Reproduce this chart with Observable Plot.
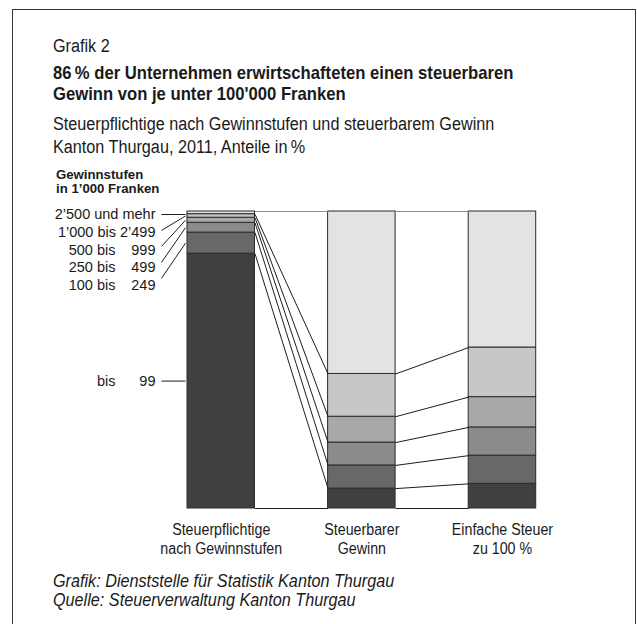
<!DOCTYPE html>
<html><head><meta charset="utf-8">
<script src="https://cdn.jsdelivr.net/npm/d3@7"></script>
<script src="https://cdn.jsdelivr.net/npm/@observablehq/plot@0.6"></script>
<style>
html,body{margin:0;padding:0;background:#fff;overflow:hidden;}
#wrap{position:relative;width:637px;height:624px;font-family:"Liberation Sans",Arial,sans-serif;color:#1a1a1a;}
.t{position:absolute;left:53px;white-space:nowrap;line-height:1;transform-origin:0 0;}
.c{transform:scaleX(0.9);}
#frame{position:absolute;left:12px;top:9px;width:622px;height:700px;border:1px solid #333;}
#chart{position:absolute;left:0;top:0;}
</style></head><body>
<div id="wrap">
<div id="frame"></div>
<div id="chart"></div>
<div class="t c" style="top:37.1px;font-size:18px">Grafik 2</div>
<div class="t c" style="top:64.3px;font-size:18.5px;font-weight:bold">86&#8239;% der Unternehmen erwirtschafteten einen steuerbaren</div>
<div class="t c" style="top:85.3px;font-size:18.5px;font-weight:bold">Gewinn von je unter 100'000 Franken</div>
<div class="t c" style="top:114.8px;font-size:18px">Steuerpflichtige nach Gewinnstufen und steuerbarem Gewinn</div>
<div class="t c" style="top:138.1px;font-size:18px">Kanton Thurgau, 2011, Anteile in&#8239;%</div>
<div class="t" style="top:168.3px;left:56px;font-size:13.2px;font-weight:bold">Gewinnstufen</div>
<div class="t" style="top:182.3px;left:56px;font-size:13.2px;font-weight:bold">in 1’000 Franken</div>
<div class="t c" style="top:571.5px;font-size:18px;font-style:italic">Grafik: Dienststelle für Statistik Kanton Thurgau</div>
<div class="t c" style="top:591.3px;font-size:18px;font-style:italic">Quelle: Steuerverwaltung Kanton Thurgau</div>
</div>
<script>
// Data (bottom to top)
const groups = ["bis 99", "100 bis 249", "250 bis 499", "500 bis 999", "1’000 bis 2’499", "2’500 und mehr"];
const columns = ["Steuerpflichtige\nnach Gewinnstufen", "Steuerbarer\nGewinn", "Einfache Steuer\nzu 100 %"];
const steuerpflichtige = [85.8, 7.1, 3.3, 1.7, 1.2, 0.9];
const steuerbarerGewinn = [6.7, 7.8, 7.7, 8.7, 14.4, 54.7];
const einfacheSteuer = [8.3, 9.5, 9.5, 10.2, 16.7, 45.8];
const colors = ["#404042", "#676869", "#8a8b8d", "#a7a8aa", "#c6c7c9", "#e2e3e3"];
const labelPrefix = ["bis", "100 bis", "250 bis", "500 bis", "", ""];
const labelNumber = ["99", "249", "499", "999", "1’000 bis 2’499", "2’500 und mehr"];

const series = [steuerpflichtige, steuerbarerGewinn, einfacheSteuer];
const hw = 0.24; // half bar width in x units

const W = 637, H = 624;
const mTop = 211, mBottom = 116, mLeft = 187, mRight = 101.3;
const xs = Plot.scale({x: {domain: [-hw, 2 + hw], range: [mLeft, W - mRight]}});
const ys = Plot.scale({y: {domain: [0, 100], range: [H - mBottom, mTop]}});

// stacked segments
const cums = series.map(s => [0, ...d3.cumsum(s)].map(v => Math.min(v, 100)));
const rows = [];
series.forEach((s, c) => s.forEach((v, g) => rows.push({c, group: groups[g], y1: cums[c][g], y2: cums[c][g + 1]})));

// connectors between columns
const conns = [];
for (let c = 0; c < 2; c++) {
  for (let k = 0; k <= groups.length; k++) {
    conns.push({x1: c + hw, y1: cums[c][k], x2: c + 1 - hw, y2: cums[c + 1][k], top: k === groups.length});
  }
}

// left labels (layout in pixels converted to data units)
const labelRightPx = 155, prefixRightPx = 115, leadStartPx = 161, leadEndPx = 185;
const labels = [];
const leaders = [];
for (let k = 0; k < 5; k++) {
  const g = groups.length - 1 - k;
  const cy = 214 + k * 17.7;
  const segMid = (cums[0][g] + cums[0][g + 1]) / 2;
  labels.push({prefix: labelPrefix[g], num: labelNumber[g], y: ys.invert(cy)});
  leaders.push({
    x1: xs.invert(leadStartPx), y1: ys.invert(k === 0 ? cy : cy - 1.75 * k),
    x2: xs.invert(leadEndPx), y2: k === 0 ? ys.invert(cy) : segMid
  });
}
{
  const mid = (cums[0][0] + cums[0][1]) / 2;
  labels.push({prefix: labelPrefix[0], num: labelNumber[0], y: mid});
  leaders.push({x1: xs.invert(leadStartPx), y1: mid, x2: xs.invert(leadEndPx), y2: mid});
}

const chart = Plot.plot({
  width: W, height: H,
  marginTop: mTop, marginBottom: mBottom, marginLeft: mLeft, marginRight: mRight,
  x: {domain: [-hw, 2 + hw], axis: null},
  y: {domain: [0, 100], axis: null},
  color: {domain: groups, range: colors},
  style: {fontFamily: "Liberation Sans, Arial, sans-serif", color: "#1a1a1a", background: "transparent", overflow: "visible"},
  marks: [
    Plot.rect(rows, {x1: d => d.c - hw, x2: d => d.c + hw, y1: "y1", y2: "y2", fill: "group", stroke: "#2b2b2b", strokeWidth: 1}),
    Plot.link(conns, {x1: "x1", y1: "y1", x2: "x2", y2: "y2", stroke: d => d.top ? "#8c8c8c" : "#1e1e1e", strokeWidth: 1}),
    Plot.link(leaders, {x1: "x1", y1: "y1", x2: "x2", y2: "y2", stroke: "#1e1e1e", strokeWidth: 1}),
    Plot.text(labels, {x: xs.invert(labelRightPx), y: "y", text: "num", textAnchor: "end", lineAnchor: "middle", fontSize: 14.5, fill: "#1a1a1a"}),
    Plot.text(labels, {x: xs.invert(prefixRightPx), y: "y", text: "prefix", textAnchor: "end", lineAnchor: "middle", fontSize: 14.5, fill: "#1a1a1a"}),
    Plot.text(columns, {x: (d, i) => i, y: 0, text: d => d, dy: 13.7, lineAnchor: "top", lineHeight: 1.15, fontSize: 16, fill: "#1a1a1a"})
  ]
});
document.getElementById("chart").appendChild(chart);

// condense the column captions horizontally, as in the reference typeface
const textGroups = chart.querySelectorAll('g[aria-label="text"]');
const captionGroup = textGroups[textGroups.length - 1];
captionGroup.querySelectorAll("tspan").forEach(t => {
  const len = t.getComputedTextLength();
  t.setAttribute("textLength", (len * 0.89).toFixed(1));
  t.setAttribute("lengthAdjust", "spacingAndGlyphs");
});
</script>
</body></html>
